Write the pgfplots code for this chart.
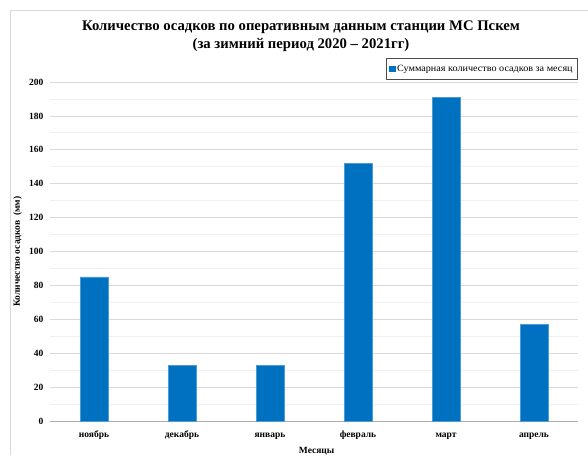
\documentclass[border=0pt]{standalone}
\usepackage{pgfplots}
\pgfplotsset{compat=1.18}
\usepackage{fontspec}
\setmainfont{Liberation Serif}
\definecolor{barblue}{HTML}{0070C0}
\definecolor{gridmaj}{HTML}{D9D9D9}
\definecolor{gridmin}{HTML}{EFEFEF}
\begin{document}
\begin{tikzpicture}[x=1pt,y=1pt]
\useasboundingbox (0,0) rectangle (588,455);
\draw[gridmaj, line width=0.8pt] (10,0) -- (10,445) -- (588,445);
\begin{axis}[
  at={(50pt,34pt)}, anchor=south west,
  scale only axis, width=528pt, height=339pt,
  xmin=-0.5, xmax=5.5, ymin=0, ymax=200,
  xtick=data,
  xticklabels={ноябрь,декабрь,январь,февраль,март,апрель},
  ytick={0,20,...,200},
  minor ytick={10,30,...,190},
  ymajorgrids, yminorgrids,
  major grid style={gridmaj, line width=0.7pt},
  minor grid style={gridmin, line width=0.7pt},
  axis line style={draw=none},
  major tick length=0pt, minor tick length=0pt,
  tick label style={font=\bfseries\fontsize{9.5}{10}\selectfont},
  /pgf/number format/assume math mode=true,
  yticklabel style={xshift=-3pt},
  xticklabel style={anchor=base, yshift=-16pt},
  xlabel={Месяцы}, xlabel style={font=\bfseries\fontsize{9.5}{10}\selectfont, anchor=base, at={(axis description cs:0.505,0)}, yshift=-32pt},
  ylabel={Количество осадков \ (мм)}, ylabel style={font=\bfseries\fontsize{9.5}{10}\selectfont, anchor=base, at={(axis description cs:0,0.5)}, xshift=0pt, yshift=30pt},
  legend style={at={(528pt,363pt)}, anchor=north east, draw=black!70, line width=0.8pt, font=\fontsize{9.5}{10}\selectfont, inner xsep=3pt, inner ysep=4.5pt, legend cell align=left},
  legend image code/.code={\fill[barblue] (0pt,-2.8pt) rectangle (5.6pt,2.8pt);},
  clip=false,
]
\draw[gridmaj!80!black, line width=0.7pt] (axis cs:-0.5,0) -- (axis cs:5.5,0);
\addplot[ybar, bar width=28pt, fill=barblue, draw=barblue!70!white, line width=0.5pt] coordinates {
(0,85) (1,33) (2,33) (3,152) (4,191) (5,57)};
\addlegendentry{\scalebox{1.07}[1]{Суммарная количество осадков за месяц}}
\end{axis}
\node[font=\bfseries\fontsize{14.7}{17.5}\selectfont, align=center] at (301,419) {Количество осадков по оперативным данным станции МС Пскем\\(за зимний период 2020 -- 2021гг)};
\end{tikzpicture}
\end{document}
